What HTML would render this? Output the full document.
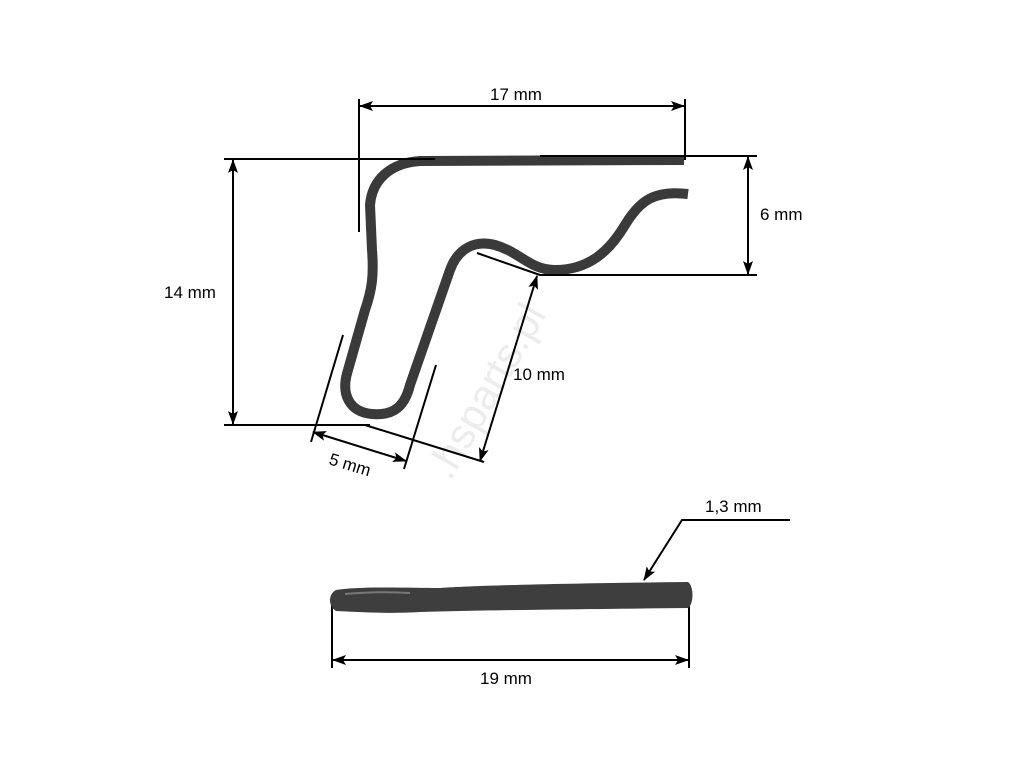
<!DOCTYPE html>
<html><head><meta charset="utf-8"><style>
html,body{margin:0;padding:0;background:#fff;}
svg{display:block;}
text{font-family:"Liberation Sans",Arial,sans-serif;font-size:17px;fill:#000;}
</style></head><body>
<svg width="1024" height="768" viewBox="0 0 1024 768" xmlns="http://www.w3.org/2000/svg">
<defs>
<marker id="a" viewBox="0 0 14 10" refX="13" refY="5" markerWidth="14" markerHeight="10" orient="auto-start-reverse" markerUnits="userSpaceOnUse">
<path d="M0,0 L14,5 L0,10 L3,5 z" fill="#000"/></marker>
</defs>
<text x="0" y="0" transform="translate(450,482) rotate(-60)" style="font-size:42px;fill:#ececec">.hsparts.pl</text>
<path d="M684,160 L420,161 C390,163 372,180 370,205 L372,250 C374,275 372,290 365,310 L348,370 C340,395 350,412 372,414 C395,416 405,405 410,385 L450,270 C458,248 475,240 495,245 C520,252 530,270 555,270 C590,270 610,250 625,225 C640,200 655,190 688,194" fill="none" stroke="#3a3a3a" stroke-width="10" stroke-linecap="butt" stroke-linejoin="round"/>
<g stroke="#000" stroke-width="2" fill="none">
<line x1="359" y1="99" x2="359" y2="232"/>
<line x1="685" y1="99" x2="685" y2="160"/>
<line x1="360" y1="106" x2="684" y2="106" marker-start="url(#a)" marker-end="url(#a)"/>
<line x1="224" y1="159" x2="435" y2="159"/>
<line x1="540" y1="156" x2="757" y2="156"/>
<line x1="224" y1="425" x2="370" y2="425"/>
<line x1="233" y1="160" x2="233" y2="424" marker-start="url(#a)" marker-end="url(#a)"/>
<line x1="540" y1="275" x2="757" y2="275"/>
<line x1="748" y1="157" x2="748" y2="274" marker-start="url(#a)" marker-end="url(#a)"/>
<line x1="477" y1="253" x2="540" y2="275"/>
<line x1="365" y1="425" x2="484" y2="462"/>
<line x1="537" y1="276" x2="480" y2="461" marker-start="url(#a)" marker-end="url(#a)"/>
<line x1="343" y1="335" x2="311" y2="442"/>
<line x1="436" y1="365" x2="404" y2="469"/>
<line x1="313" y1="432" x2="406" y2="461" marker-start="url(#a)" marker-end="url(#a)"/>
<line x1="332" y1="597" x2="332" y2="668"/>
<line x1="689" y1="592" x2="689" y2="668"/>
<line x1="333" y1="660" x2="688" y2="660" marker-start="url(#a)" marker-end="url(#a)"/>
<polyline points="790,520 682,520 644,580" marker-end="url(#a)"/>
</g>
<path d="M336,590 C360,586 410,588 440,588 C480,585 600,583 688,582 C694,586 694,604 688,608 C600,609 480,610 420,612 C390,614 360,612 336,611 C328,606 328,594 336,590 Z" fill="#3e3e3e"/>
<path d="M345,594 C370,592 395,592 410,593" stroke="#777" stroke-width="2" fill="none"/>
<text x="490" y="100">17 mm</text>
<text x="164" y="298">14 mm</text>
<text x="760" y="220">6 mm</text>
<text x="513" y="380">10 mm</text>
<text x="0" y="0" transform="translate(328,464) rotate(17)">5 mm</text>
<text x="705" y="512">1,3 mm</text>
<text x="480" y="684">19 mm</text>
</svg>
</body></html>
